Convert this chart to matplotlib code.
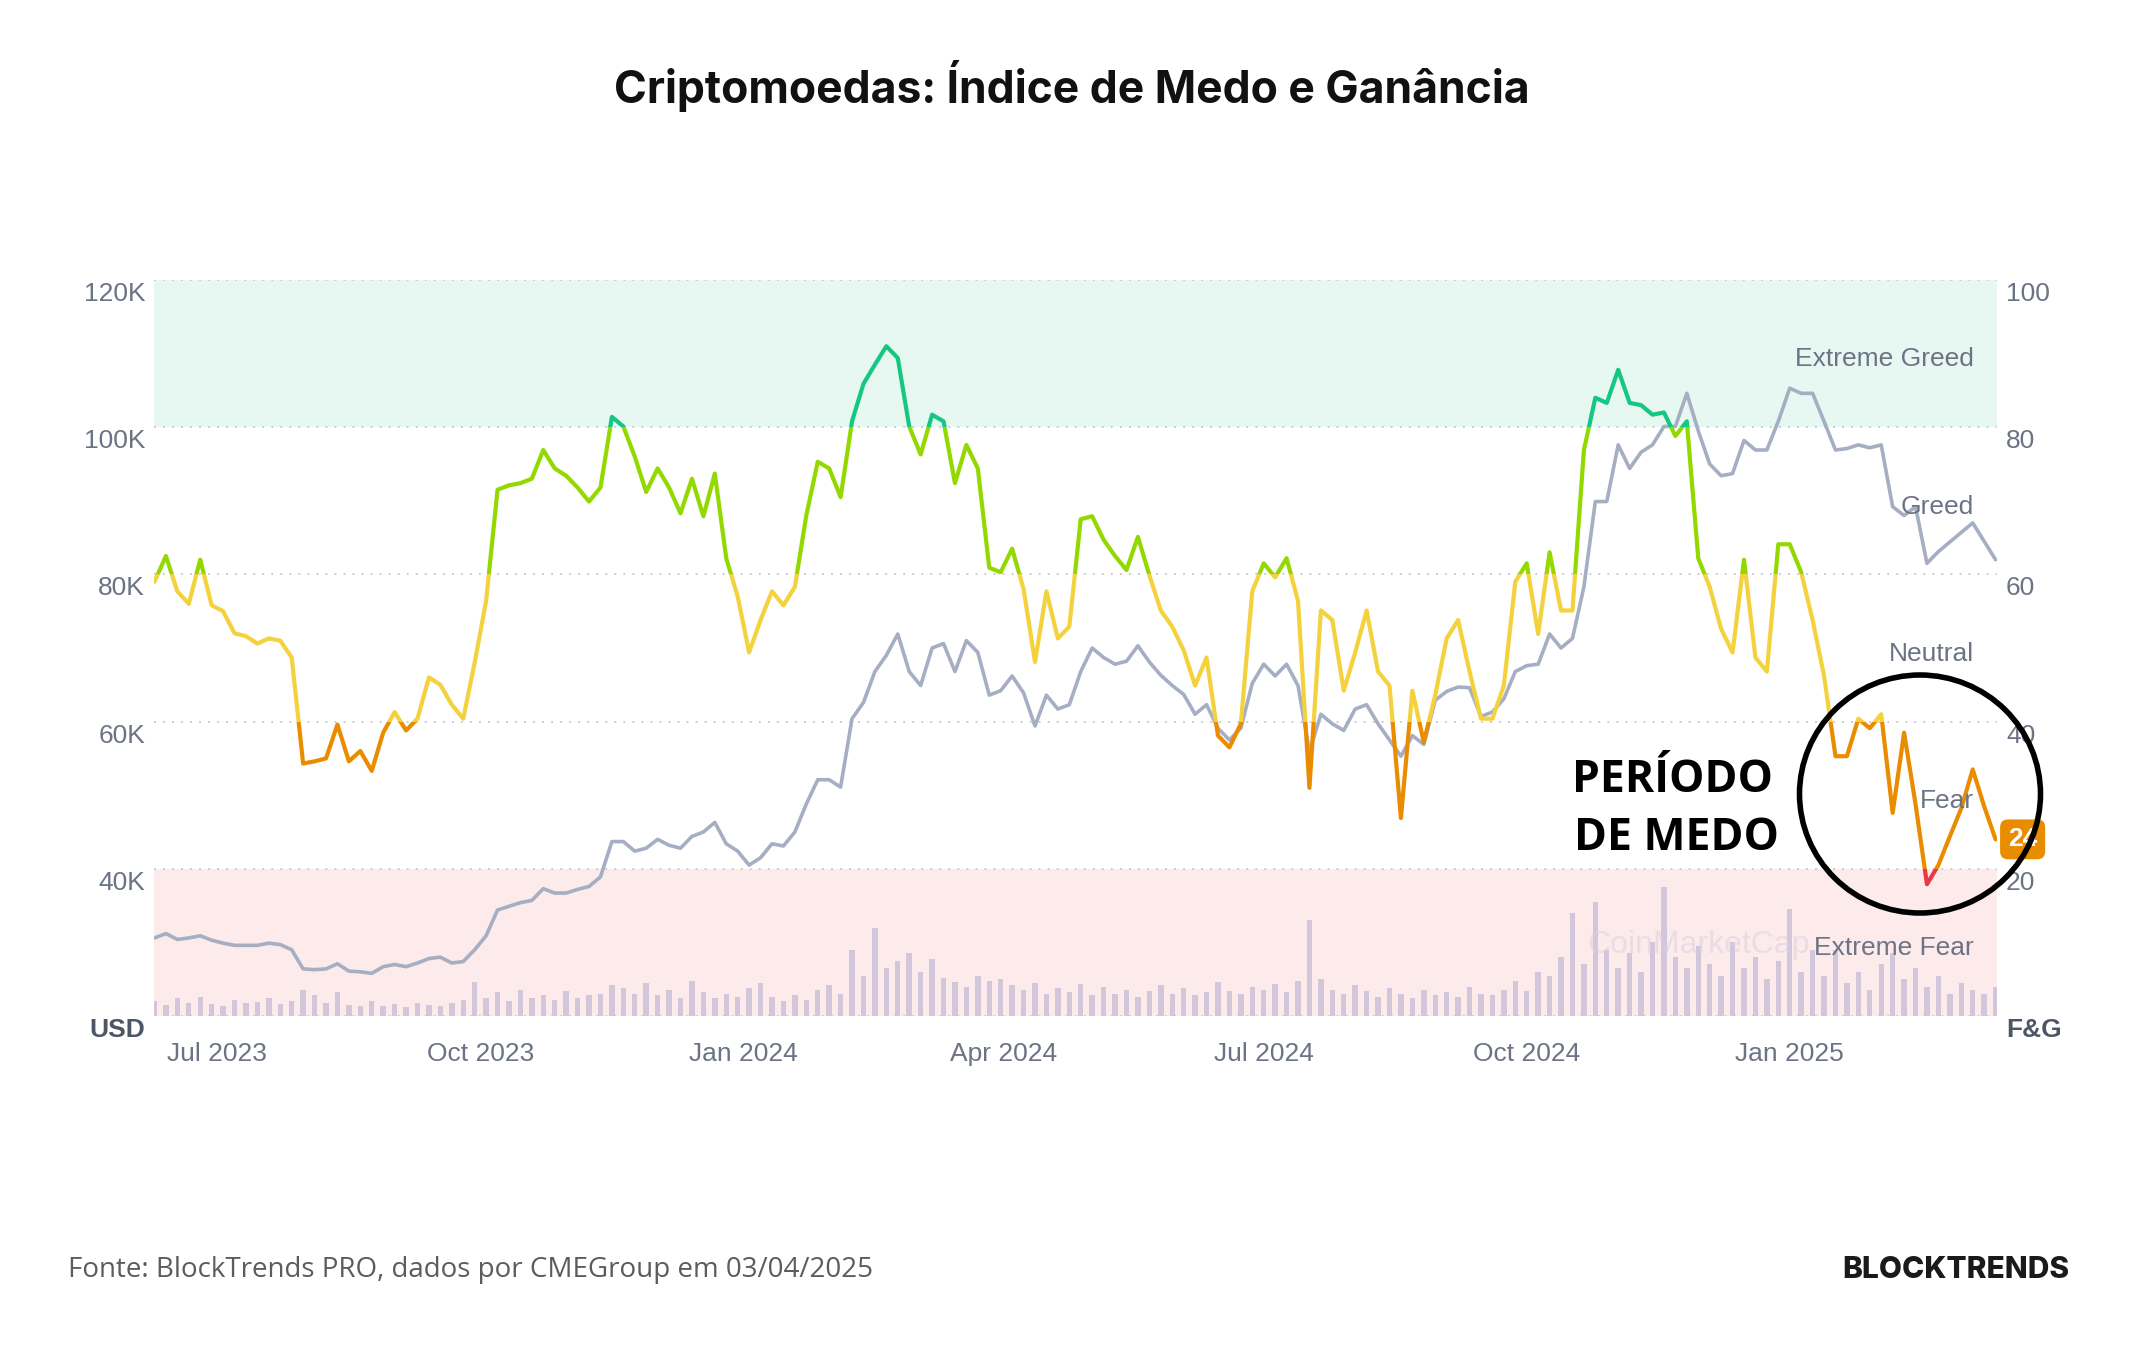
import matplotlib
matplotlib.use("Agg")
import matplotlib.pyplot as plt
import matplotlib.dates as mdates
from matplotlib import transforms
from matplotlib.patches import Rectangle, Ellipse
import pandas as pd

# --- data (one sample every 4 days) --------------------------------------
fng = [
    59, 62.5, 57.7, 56, 62, 55.8, 55, 52, 51.6, 50.6, 51.3, 51, 48.7, 34.3,
    34.6, 35, 39.6, 34.6, 36, 33.3, 38.5, 41.3, 38.8, 40.4, 46, 45, 42.3,
    40.4, 48, 56.4, 71.5, 72.1, 72.4, 73, 76.9, 74.4, 73.4, 71.8, 69.9, 71.8,
    81.4, 80.1, 76, 71.2, 74.4, 71.8, 68.3, 73, 67.9, 73.7, 62.2, 57, 49.4,
    53.8, 57.7, 55.8, 58.3, 68, 75.3, 74.4, 70.5, 80.8, 85.9, 88.5, 91, 89.4,
    80.1, 76.3, 81.7, 80.8, 72.4, 77.6, 74.4, 60.9, 60.3, 63.5, 58, 48.1,
    57.7, 51.3,
    52.9, 67.5, 67.9, 64.7, 62.5, 60.6, 65.1, 59.9, 55.1, 52.9, 49.7, 44.9,
    48.7, 38.1, 36.5, 39.7, 57.7, 61.5, 59.6, 62.2, 56.4, 31, 55.1, 53.8,
    44.2, 49.4,
    55.1, 46.8, 44.9, 26.9, 44.2, 37.2, 43.6, 51.3, 53.8, 46.8, 40.4, 40.4,
    44.9, 59, 61.5, 51.9, 63, 55.1, 55.1, 76.9, 84, 83.3, 87.8, 83.3, 83,
    81.7,
    82, 78.8, 80.8, 62.2, 58.3, 52.6, 49.4, 62, 48.7, 46.8, 64.1, 64.1, 60.3,
    53.8, 46.2, 35.3, 35.3, 40.4, 39.1, 41, 27.6, 38.5, 28.8, 17.9, 20.5,
    24.4, 28.2, 33.5, 28.5, 24,
]

price_k = [
    30.6, 31.2, 30.4, 30.6, 30.9, 30.3, 29.9, 29.6, 29.6, 29.6, 29.9, 29.7,
    29.0, 26.4, 26.3, 26.4, 27.1, 26.1, 26.0, 25.8, 26.7, 27.0, 26.7, 27.2,
    27.8, 28.0, 27.2,
    27.4, 29.0, 30.9, 34.4, 34.9, 35.4, 35.7, 37.3, 36.7, 36.7, 37.2, 37.6,
    38.9, 43.7, 43.7, 42.4, 42.8, 44.0, 43.2, 42.8, 44.4, 45.0, 46.3, 43.4,
    42.4, 40.5,
    41.5, 43.4, 43.1, 45.0, 48.8, 52.1, 52.1, 51.1, 60.4, 62.6, 66.8, 69.0,
    71.9, 66.8, 64.9, 70.0, 70.6, 66.8, 71.0, 69.4, 63.6, 64.2, 66.2, 63.9,
    59.4, 63.6, 61.7,
    62.3, 66.8, 70.0, 68.7, 67.8, 68.2, 70.3, 68.1, 66.3, 64.9, 63.7, 61.0,
    62.3, 59.1, 57.5, 59.1, 65.2, 67.8, 66.2, 67.8, 64.9, 55.9, 61.0, 59.7,
    58.8, 61.7,
    62.3, 59.7, 57.5, 55.3, 58.1, 56.9, 62.9, 64.1, 64.7, 64.6, 60.7, 61.3,
    63.1, 66.8, 67.6, 67.8, 71.9, 70.0, 71.3, 78.3, 89.9, 89.9, 97.6, 94.4,
    96.6, 97.6,
    100.1, 100.1, 104.6, 99.5, 95.0, 93.4, 93.7, 98.2, 96.9, 96.9, 100.8,
    105.3, 104.6, 104.6, 100.8, 96.9, 97.1, 97.6, 97.2, 97.6, 89.2, 88.0,
    89.2, 81.5, 83.1, 84.4, 85.7, 87.0, 84.5, 82.0,
]

volume_k = [
    2.0, 1.5, 2.4, 1.8, 2.6, 1.6, 1.4, 2.2, 1.7, 1.9, 2.5, 1.6, 2.0, 3.5,
    2.8, 1.8, 3.2, 1.5, 1.4, 2.1, 1.3, 1.6, 1.2, 1.8, 1.5, 1.4, 1.7,
    2.2, 4.6, 2.5, 3.2, 2.0, 3.6, 2.4, 2.9, 2.2, 3.4, 2.5, 2.8, 3.0, 4.2,
    3.8, 3.0, 4.5, 2.8, 3.5, 2.5, 4.8, 3.2, 2.4, 3.0, 2.6, 3.8,
    4.5, 2.6, 2.0, 2.8, 2.2, 3.5, 4.2, 3.0, 9.0, 5.5, 12.0, 6.5,
    7.5, 8.6, 6.0, 7.8, 5.2, 4.6, 4.0, 5.5, 4.8, 5.0, 4.2, 3.5, 4.5, 3.0,
    3.8, 3.2, 4.4, 2.8, 4.0, 3.0, 3.6, 2.6, 3.4, 4.2, 3.0, 3.8, 2.8, 3.2,
    4.6, 3.4, 3.0, 4.0, 3.6, 4.4, 3.2, 4.8,
    13.0,
    5.0, 3.6, 3.0, 4.2, 3.4, 2.6, 3.8, 3.0, 2.4, 3.6, 2.8, 3.2, 2.6, 3.9,
    3.0, 2.8, 3.5, 4.8, 3.4,
    6.0, 5.5, 8.0, 14.0, 7.0, 15.5, 9.0, 6.5, 8.5, 6.0, 10.0, 17.5, 8.0,
    6.5, 9.5,
    7.0, 5.5, 10.0, 6.5, 8.0, 5.0, 7.5, 14.5, 6.0, 9.0,
    5.5, 9.0, 4.5, 6.0, 3.5, 7.0, 8.5, 5.0, 6.5, 4.0, 5.5, 3.0, 4.5, 3.5,
    3.0, 4.0,
]

dates = pd.date_range("2023-06-09", periods=len(fng), freq="4D")

price_ticks = [20, 40, 60, 80, 100, 120]
price_labels = ["USD", "40K", "60K", "80K", "100K", "120K"]
fng_ticks = [0, 20, 40, 60, 80, 100]
fng_labels = ["F&G", "20", "40", "60", "80", "100"]

zone_lo = [80, 60, 40, 20, 0]
zone_hi = [100, 80, 60, 40, 20]
zone_colors = ["#16c784", "#93d900", "#f3d23e", "#ea8c00", "#ea3943"]
zone_names = ["Extreme Greed", "Greed", "Neutral", "Fear", "Extreme Fear"]

TITLE = "Criptomoedas: Índice de Medo e Ganância"
SOURCE = "Fonte: BlockTrends PRO, dados por CMEGroup em 03/04/2025"

LABEL = "#6b7385"
CHART_FONT = ["Liberation Sans", "DejaVu Sans"]

fig = plt.figure(figsize=(21.44, 13.5), dpi=100)
fig.patch.set_facecolor("white")
W, H = 2144, 1350
ax = fig.add_axes([154 / W, 1 - 1016 / H, 1843 / W, 736 / H])
ax2 = ax.twinx()
ax2.set_zorder(ax.get_zorder() + 1)
ax2.patch.set_visible(False)

for a in (ax, ax2):
    for s in a.spines.values():
        s.set_visible(False)
    a.set_yticks([])

ax.set_ylim(20, 120)
ax2.set_ylim(0, 100)
ax.set_xlim(dates[0] - pd.Timedelta(hours=4), dates[-1] + pd.Timedelta(hours=12))

# zone fills + dotted grid
ax.axhspan(100, 120, color="#e6f8f1", lw=0, zorder=0)
ax.axhspan(20, 40, color="#fdeaea", lw=0, zorder=0)
for v in price_ticks:
    ax.axhline(v, color="#c3c7ce", lw=1.3, ls=(0, (1, 4)), zorder=0.5)

# volume + price
ax.bar(dates, volume_k, bottom=20, width=1.9, color="#cbc1d8",
       alpha=0.85, lw=0, zorder=1)
ax.plot(dates, price_k, color="#a5aec2", lw=2.6, zorder=3,
        solid_joinstyle="round", solid_capstyle="round")

# fear & greed line, coloured by zone (clipped per band)
band_tr = transforms.blended_transform_factory(ax2.transAxes, ax2.transData)
for lo, hi, col in zip(zone_lo, zone_hi, zone_colors):
    ln, = ax2.plot(dates, fng, color=col, lw=3.0, zorder=4,
                   solid_joinstyle="round", solid_capstyle="round")
    clip = Rectangle((0, lo), 1, hi - lo, transform=band_tr,
                     fill=False, visible=False)
    ax2.add_patch(clip)
    ln.set_clip_path(clip)

for lo, hi, name in zip(zone_lo, zone_hi, zone_names):
    ax2.text(0.9875, (lo + hi) / 2 - 0.8, name, transform=band_tr,
             ha="right", va="center", fontsize=19, color=LABEL,
             family=CHART_FONT, zorder=5)

# faint watermark
ax2.text(0.838, 9.6, "CoinMarketCap", transform=band_tr, ha="center",
         va="center", fontsize=23, color="#d8d0e0", alpha=0.5,
         family=CHART_FONT, zorder=2)

# y tick labels, sitting just under their grid lines
left_tr = transforms.blended_transform_factory(ax.transAxes, ax.transData)
for v, lab in zip(price_ticks, price_labels):
    ax.text(0, v, lab, ha="right", va="center", fontsize=19,
            color="#4d5566" if lab == "USD" else LABEL,
            fontweight="bold" if lab == "USD" else "normal", family=CHART_FONT,
            transform=transforms.offset_copy(left_tr, fig=fig, x=-9, y=-14, units="dots"))
right_tr = transforms.blended_transform_factory(ax2.transAxes, ax2.transData)
for v, lab in zip(fng_ticks, fng_labels):
    ax2.text(1, v, lab, ha="left", va="center", fontsize=19,
             color="#4d5566" if lab == "F&G" else LABEL,
             fontweight="bold" if lab == "F&G" else "normal", family=CHART_FONT,
             transform=transforms.offset_copy(right_tr, fig=fig, x=9, y=-14, units="dots"))

# x axis
ax.xaxis.set_major_locator(mdates.MonthLocator(bymonth=[1, 4, 7, 10]))
ax.xaxis.set_major_formatter(mdates.DateFormatter("%b %Y"))
ax.tick_params(axis="x", length=0, pad=19, labelsize=19, labelcolor=LABEL)
for t in ax.get_xticklabels():
    t.set_family(CHART_FONT)

# current value badge
ax2.annotate(f"{fng[-1]:.0f}", xy=(1, fng[-1]), xycoords=right_tr,
             xytext=(11, 0), textcoords="offset pixels", ha="left", va="center",
             color="white", fontsize=19, fontweight="bold", family=CHART_FONT,
             bbox=dict(boxstyle="round,pad=0.3,rounding_size=0.3",
                       fc="#ea8c00", ec="none"),
             annotation_clip=False, zorder=10)

# annotation: circle + label
fig.add_artist(Ellipse((1920 / W, 1 - 794 / H), 241 / W, 238 / H,
                       transform=fig.transFigure, fill=False, ec="black",
                       lw=4.0, zorder=20))
fig.text(1672 / W, 1 - 781 / H, "PERÍODO", ha="center", va="center",
         fontsize=32, fontweight="bold", family=["Open Sans", "DejaVu Sans"])
fig.text(1676 / W, 1 - 838 / H, "DE MEDO", ha="center", va="center",
         fontsize=32, fontweight="bold", family=["Open Sans", "DejaVu Sans"])

# title + footer
fig.text(0.5, 1 - 86 / H, TITLE, ha="center", va="center", fontsize=32,
         fontweight="bold", family=["Inter", "DejaVu Sans"], color="#111111")
fig.text(68 / W, 1 - 1270 / H, SOURCE, ha="left", va="center", fontsize=20,
         color="#5c5c5c", family=["Open Sans", "DejaVu Sans"])
fig.text(2069 / W, 1 - 1270 / H, "BLOCKTRENDS", ha="right", va="center",
         fontsize=21.5, fontweight="heavy", color="#1a1a1a",
         family=["Inter", "DejaVu Sans"])

fig.savefig("out.png", dpi=100)
